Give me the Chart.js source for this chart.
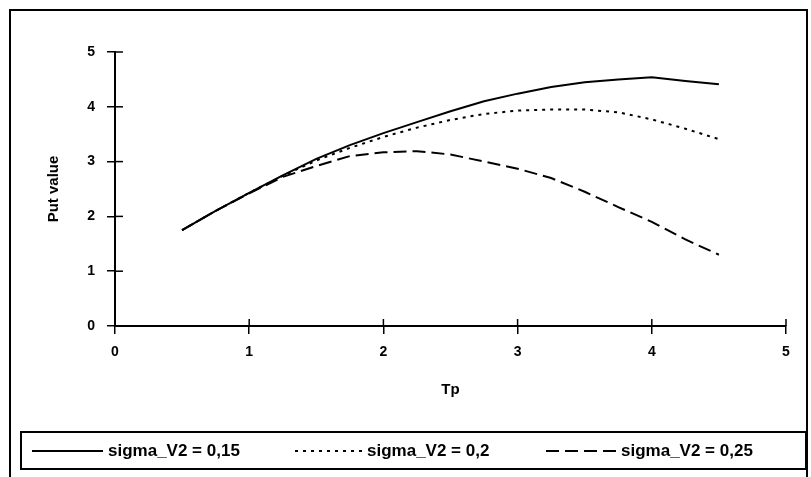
<!DOCTYPE html>
<html>
<head>
    <meta charset="utf-8">
    <title>Put value vs Tp</title>
    <script src="https://cdn.jsdelivr.net/npm/chart.js"></script>
    <style>
        html, body { margin: 0; padding: 0; background: #fff; }
    </style>
</head>
<body>
<canvas id="chartCanvas" width="811" height="477"></canvas>
<script>
    // values, Tp from 0.5 to 4.5
    var tp = [0.5, 0.75, 1, 1.25, 1.5, 1.75, 2, 2.25, 2.5, 2.75, 3, 3.25, 3.5, 3.75, 4, 4.25, 4.5];
    var put015 = [1.75, 2.10, 2.43, 2.75, 3.05, 3.30, 3.52, 3.72, 3.92, 4.10, 4.24, 4.36, 4.45, 4.50, 4.54, 4.47, 4.41];
    var put020 = [1.75, 2.10, 2.43, 2.74, 3.02, 3.25, 3.45, 3.62, 3.76, 3.87, 3.93, 3.95, 3.95, 3.90, 3.77, 3.60, 3.41];
    var put025 = [1.75, 2.10, 2.42, 2.72, 2.92, 3.10, 3.17, 3.19, 3.13, 3.00, 2.87, 2.70, 2.45, 2.17, 1.90, 1.58, 1.30];
    var seriesLabels = ['sigma_V2 = 0,15', 'sigma_V2 = 0,2', 'sigma_V2 = 0,25'];
    var xTicks = [0, 1, 2, 3, 4, 5];
    var yTicks = [0, 1, 2, 3, 4, 5];

    var fontFam = '"Liberation Sans", Arial, sans-serif';

    function pts(ys) {
        return tp.map(function (x, i) { return {x: x, y: ys[i]}; });
    }

    // frame, legend box and the inner half of the tick marks
    var framePlugin = {
        id: 'frame',
        afterDraw: function (chart) {
            var ctx = chart.ctx;
            var xs = chart.scales.x, ys = chart.scales.y;
            ctx.save();
            ctx.strokeStyle = '#000';

            // ticks cross the axes
            ctx.lineWidth = 1.5;
            xTicks.forEach(function (v) {
                var px = xs.getPixelForValue(v);
                ctx.beginPath(); ctx.moveTo(px, xs.top); ctx.lineTo(px, xs.top - 7); ctx.stroke();
            });
            yTicks.forEach(function (v) {
                var py = ys.getPixelForValue(v);
                ctx.beginPath(); ctx.moveTo(ys.right, py); ctx.lineTo(ys.right + 8, py); ctx.stroke();
            });

            ctx.lineWidth = 2;
            ctx.strokeRect(10, 10, 797, 480);
            ctx.strokeRect(21, 432, 785, 37);

            var samples = [[32, 103], [295, 362], [546, 616]];
            ctx.font = 'bold 17px ' + fontFam;
            ctx.fillStyle = '#000';
            ctx.textBaseline = 'middle';
            chart.data.datasets.forEach(function (ds, i) {
                var s = samples[i];
                ctx.beginPath();
                ctx.setLineDash(ds.borderDash || []);
                ctx.lineWidth = 2;
                ctx.moveTo(s[0], 451);
                ctx.lineTo(s[1], 451);
                ctx.stroke();
                ctx.setLineDash([]);
                ctx.fillText(ds.label, s[1] + 5, 451);
            });
            ctx.restore();
        }
    };

    var ctx = document.getElementById('chartCanvas').getContext('2d');
    var chart = new Chart(ctx, {
        type: 'line',
        data: {
            datasets: [{
                label: seriesLabels[0],
                data: pts(put015),
                borderColor: '#000',
                borderWidth: 2,
                borderDash: [],
                pointRadius: 0,
                tension: 0
            }, {
                label: seriesLabels[1],
                data: pts(put020),
                borderColor: '#000',
                borderWidth: 2,
                borderDash: [3, 5],
                pointRadius: 0,
                tension: 0
            }, {
                label: seriesLabels[2],
                data: pts(put025),
                borderColor: '#000',
                borderWidth: 2,
                borderDash: [13, 6],
                pointRadius: 0,
                tension: 0
            }]
        },
        options: {
            responsive: false,
            animation: false,
            layout: { padding: { top: 52, left: 0, right: 25, bottom: 51 } },
            plugins: {
                legend: { display: false },
                tooltip: { enabled: false }
            },
            scales: {
                x: {
                    type: 'linear',
                    min: 0,
                    max: 5,
                    afterFit: function (s) { s.height = 100; },
                    afterBuildTicks: function (s) { s.ticks = xTicks.map(function (v) { return {value: v}; }); },
                    ticks: { color: '#000', padding: 10, font: { family: fontFam, size: 14, weight: 'bold' } },
                    grid: { drawOnChartArea: false, color: '#000', lineWidth: 1.5, tickLength: 8 },
                    border: { color: '#000', width: 2 },
                    title: {
                        display: true, text: 'Tp', color: '#000',
                        font: { family: fontFam, size: 15, weight: 'bold' },
                        padding: { top: 0, bottom: 27 }
                    }
                },
                y: {
                    min: 0,
                    max: 5,
                    afterFit: function (s) { s.width = 115; },
                    afterBuildTicks: function (s) { s.ticks = yTicks.map(function (v) { return {value: v}; }); },
                    ticks: { color: '#000', padding: 12, font: { family: fontFam, size: 14, weight: 'bold' } },
                    grid: { drawOnChartArea: false, color: '#000', lineWidth: 1.5, tickLength: 8 },
                    border: { color: '#000', width: 2 },
                    title: {
                        display: true, text: 'Put value', color: '#000',
                        font: { family: fontFam, size: 15, weight: 'bold' },
                        padding: { top: 45, bottom: 0 }
                    }
                }
            }
        },
        plugins: [framePlugin]
    });
</script>
</body>
</html>
